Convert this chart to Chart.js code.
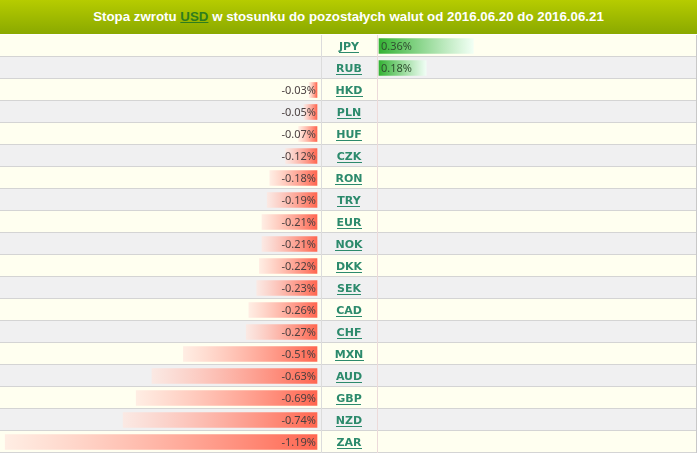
<!DOCTYPE html>
<html>
<head>
<meta charset="utf-8">
<script src="https://cdn.jsdelivr.net/npm/chart.js@4"></script>
<style>
  body { margin: 0; background: #fff; }
  #wrap { position: relative; width: 697px; height: 454px; }
  #head {
    height: 34px; text-align: center;
    background: linear-gradient(#b6cc00, #8aa900);
    color: #fff; font: bold 13.3px "Liberation Sans", Arial, sans-serif;
    line-height: 34px;
  }
  #head a { color: #2e7d1e; text-decoration: underline; }
  #box { position: absolute; left: 0; top: 35px; width: 697px; height: 419px; }
</style>
</head>
<body>
<div id="wrap">
  <div id="head">Stopa zwrotu <a>USD</a> w stosunku do pozostałych walut od 2016.06.20 do 2016.06.21</div>
  <div id="box"><canvas id="c"></canvas></div>
</div>
<script>
const waluty = ["JPY", "RUB", "HKD", "PLN", "HUF", "CZK", "RON", "TRY", "EUR", "NOK",
                "DKK", "SEK", "CAD", "CHF", "MXN", "AUD", "GBP", "NZD", "ZAR"];
const stopy  = [0.36, 0.18, -0.03, -0.05, -0.07, -0.12, -0.18, -0.19, -0.21, -0.21,
                -0.22, -0.23, -0.26, -0.27, -0.51, -0.63, -0.69, -0.74, -1.19];

const ujemne   = stopy.map((v) => (v < 0 ? v : null));
const dodatnie = stopy.map((v) => (v >= 0 ? v : null));

// uklad kolumn: lewa 0..321, srodek 321..377, prawa 377..697
const W = 697, ZERO_L = 317, ZERO_P = 379, PX = 262;

function fmt(v) { return v.toFixed(2) + "%"; }

function gradient(scaleId, from, to) {
  return (ctx) => {
    const chart = ctx.chart;
    if (!chart.chartArea || ctx.raw == null) return "transparent";
    const s = chart.scales[scaleId];
    const a = s.getPixelForValue(ctx.raw), b = s.getPixelForValue(0);
    const g = chart.ctx.createLinearGradient(Math.min(a, b), 0, Math.max(a, b), 0);
    g.addColorStop(0, from);
    g.addColorStop(1, to);
    return g;
  };
}

const tabela = {
  id: "tabela",
  beforeDatasetsDraw(chart) {
    const { ctx, chartArea: ca, scales: { y } } = chart;
    const h = 22;
    ctx.save();
    waluty.forEach((w, i) => {
      const yc = y.getPixelForValue(i);
      ctx.fillStyle = i % 2 ? "#f0f0f1" : "#fffff0";
      ctx.fillRect(0, yc - h / 2, W, h);
      ctx.fillStyle = "#d4d4d4";
      ctx.fillRect(0, Math.round(yc + h / 2) - 1, W - 1, 1);
    });
    ctx.fillStyle = "#dcdcdc";
    ctx.fillRect(321, ca.top, 1, ca.bottom - ca.top);
    ctx.fillStyle = "#ecdada";
    ctx.fillRect(377, ca.top, 1, ca.bottom - ca.top);
    ctx.fillStyle = "#c8c8c8";
    ctx.fillRect(W - 1, ca.top, 1, ca.bottom - ca.top);
    ctx.restore();
  },
  afterDatasetsDraw(chart) {
    const { ctx, scales: { y, xNeg, xPos } } = chart;
    ctx.save();
    ctx.textBaseline = "middle";
    stopy.forEach((v, i) => {
      const yc = y.getPixelForValue(i) + 1;
      ctx.font = '11px "Noto Sans", sans-serif';
      if (v < 0) {
        ctx.fillStyle = "#4a4040";
        ctx.textAlign = "right";
        ctx.fillText(fmt(v), xNeg.getPixelForValue(0) - 1, yc);
      } else {
        ctx.fillStyle = "#2f4f2f";
        ctx.textAlign = "left";
        ctx.fillText(fmt(v), xPos.getPixelForValue(0) + 2, yc);
      }
      // kod waluty, pogrubiony i podkreslony
      ctx.font = 'bold 11px "DejaVu Sans", sans-serif';
      ctx.fillStyle = "#2c8a6c";
      ctx.textAlign = "center";
      ctx.fillText(waluty[i], 349, yc);
      const tw = ctx.measureText(waluty[i]).width;
      ctx.fillRect(Math.round(349 - tw / 2), Math.round(yc + 5), Math.round(tw), 1);
    });
    ctx.restore();
  },
};

new Chart(document.getElementById("c"), {
  type: "bar",
  data: {
    labels: waluty,
    datasets: [
      {
        data: ujemne,
        xAxisID: "xNeg",
        backgroundColor: gradient("xNeg", "rgba(255,230,222,0.7)", "#ff6650"),
      },
      {
        data: dodatnie,
        xAxisID: "xPos",
        backgroundColor: gradient("xPos", "#34b234", "rgba(240,255,245,0.9)"),
      },
    ],
  },
  plugins: [tabela],
  options: {
    indexAxis: "y",
    responsive: true,
    maintainAspectRatio: false,
    animation: false,
    layout: { padding: { bottom: 1 } },
    datasets: { bar: { grouped: false, barThickness: 15, borderWidth: 0 } },
    plugins: { legend: { display: false }, tooltip: { enabled: false } },
    scales: {
      y: { display: false, offset: true },
      xNeg: { type: "linear", display: false, min: -ZERO_L / PX, max: (W - ZERO_L) / PX },
      xPos: { type: "linear", display: false, min: -ZERO_P / PX, max: (W - ZERO_P) / PX },
    },
  },
});
</script>
</body>
</html>
